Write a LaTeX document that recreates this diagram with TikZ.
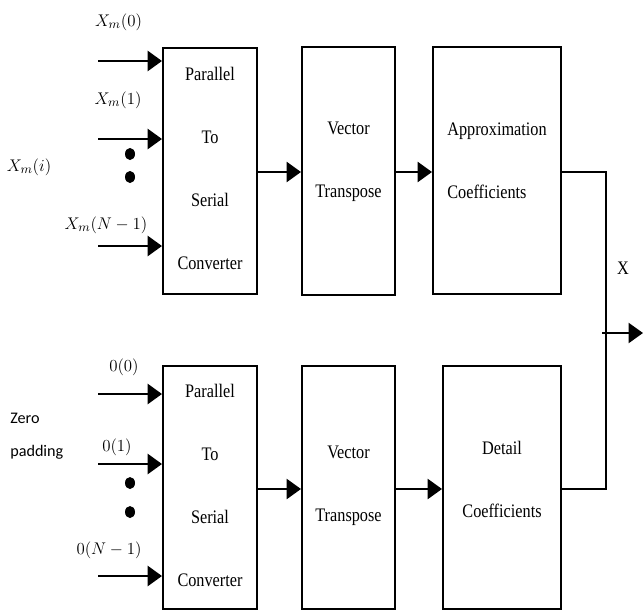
\documentclass[tikz,border=0pt]{standalone}
\usepackage{fontspec}
\setmainfont{Liberation Serif}[FakeStretch=0.85]
\newfontfamily\padfont{Carlito}
\usetikzlibrary{arrows.meta}

\begin{document}
\begin{tikzpicture}[x=0.025cm,y=-0.025cm,
    block/.style={draw,line width=1.4pt,inner sep=0pt},
    blocktext/.style={font=\fontsize{13.6}{45}\selectfont,align=center,inner sep=0pt},
    feed/.style={line width=2pt,-{Triangle[length=0.36cm,width=0.5cm]}},
    wire/.style={line width=1.6pt},
    lbl/.style={font=\fontsize{12.5}{14}\selectfont,inner sep=0pt}]
  \useasboundingbox (0,0) rectangle (643,611);

  % upper branch
  \node[block,minimum width=2.35cm,minimum height=6.15cm] (p2sa) at (210,171) {};
  \node[block,minimum width=2.325cm,minimum height=6.2cm] (vta) at (348.5,171) {};
  \node[block,minimum width=3.2cm,minimum height=6.175cm] (approx) at (497,170.5) {};
  \node[blocktext] (p2satxt) at (210,168.5) {Parallel\\To\\Serial\\Converter};
  \node[blocktext] (vtatxt) at (348.5,161.5) {Vector\\Transpose};
  \node[blocktext,align=left] (approxtxt) at (497,161) {Approximation\\Coefficients};

  % lower branch
  \node[block,minimum width=2.35cm,minimum height=6.075cm] (p2sb) at (210,487.5) {};
  \node[block,minimum width=2.325cm,minimum height=6.075cm] (vtb) at (348.5,487.5) {};
  \node[block,minimum width=2.95cm,minimum height=6.075cm] (detail) at (502,487.5) {};
  \node[blocktext] (p2sbtxt) at (210,485.5) {Parallel\\To\\Serial\\Converter};
  \node[blocktext] (vtbtxt) at (348.5,485.5) {Vector\\Transpose};
  \node[blocktext] (detailtxt) at (502,479.5) {Detail\\Coefficients};

  % inputs
  \coordinate (xa0) at (98,61);
  \coordinate (xa1) at (98,139);
  \coordinate (xan) at (98,246);
  \coordinate (xb0) at (98,394);
  \coordinate (xb1) at (98,464);
  \coordinate (xbn) at (98,576);
  \foreach \c/\b in {xa0/p2sa,xa1/p2sa,xan/p2sa,xb0/p2sb,xb1/p2sb,xbn/p2sb}
    \draw[feed] (\c) -- (\c -| \b.west);

  \node[lbl] (lxa0) at (118.5,22) {$X_m(0)$};
  \node[lbl] (lxa1) at (118,100) {$X_m(1)$};
  \node[lbl] (lxan) at (106,225) {$X_m(N-1)$};
  \node[lbl] (lxi) at (29,167) {$X_m(i)$};
  \node[lbl] (lxb0) at (124,367) {$0(0)$};
  \node[lbl] (lxb1) at (117,447) {$0(1)$};
  \node[lbl] (lxbn) at (109,550) {$0(N-1)$};
  \node[font=\padfont\fontsize{11.5}{23.5}\selectfont,align=left,anchor=west,inner sep=0pt]
    (pad) at (10,436) {Zero\\padding};

  \foreach \y in {154,177,483,512}
    \fill (130,\y) ellipse[x radius=0.125cm,y radius=0.15cm];

  % chain
  \draw[feed,line width=1.8pt] (p2sa.east |- 0,172) -- (vta.west |- 0,172);
  \draw[feed,line width=1.8pt] (vta.east |- 0,172) -- (approx.west |- 0,172);
  \draw[feed,line width=1.8pt] (p2sb.east |- 0,489) -- (vtb.west |- 0,489);
  \draw[feed,line width=1.8pt] (vtb.east |- 0,489) -- (detail.west |- 0,489);

  % output
  \coordinate (jn) at (606,333);
  \coordinate (tap) at (602,333);
  \coordinate (xout) at (643,333);
  \draw[wire] (approx.east |- 0,172) -| (jn) |- (detail.east |- 0,489);
  \draw[feed,line width=1.6pt] (tap) -- (xout);
  \node[blocktext] (lx) at (623,268) {X};
\end{tikzpicture}
\end{document}
